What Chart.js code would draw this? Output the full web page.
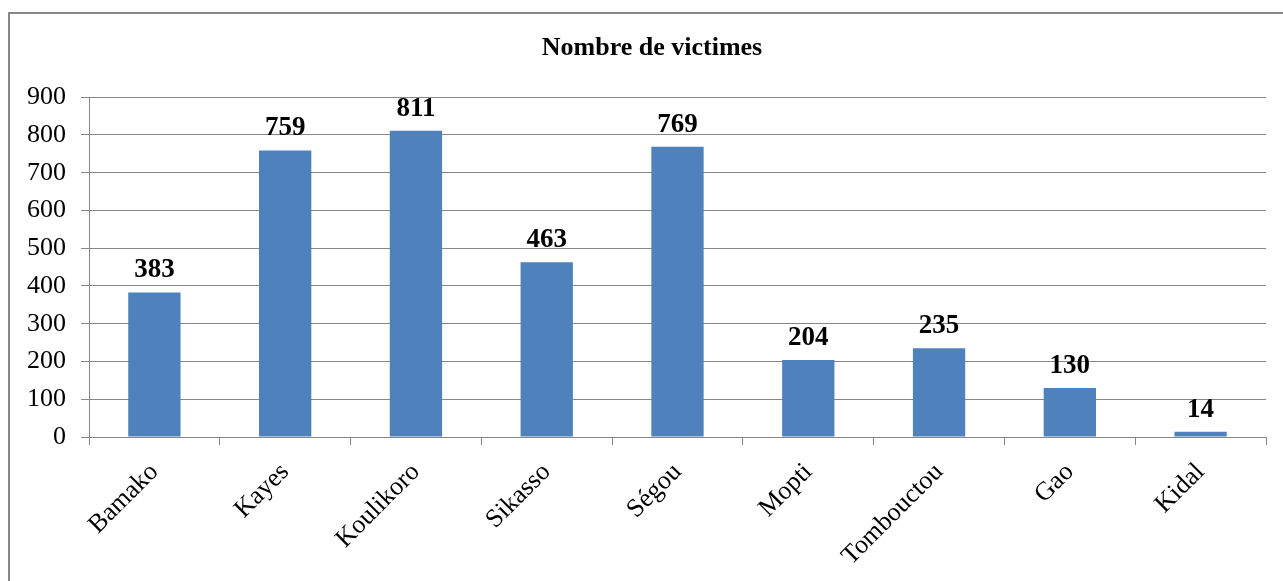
<!DOCTYPE html>
<html>
<head>
<meta charset="utf-8">
<script src="https://cdn.jsdelivr.net/npm/chart.js@4/dist/chart.umd.min.js"></script>
<style>
  html, body { margin: 0; padding: 0; background: #fff; overflow: hidden; }
  #grafico { display: block; }
</style>
</head>
<body>
<canvas id="grafico" width="1283" height="581"></canvas>
<script>
const regions = ["Bamako", "Kayes", "Koulikoro", "Sikasso", "Ségou", "Mopti", "Tombouctou", "Gao", "Kidal"]
const victimes = [383, 759, 811, 463, 769, 204, 235, 130, 14]
const yMin = 0
const yMax = 900
const yStep = 100

const serif = "'Liberation Serif', 'Times New Roman', serif"

// frame round the chart + value labels over each bar
const cadre = {
  id: "cadre",
  afterLayout(chart){
    // let the y labels use the left margin (otherwise clipped)
    chart.scales.y.left = 0
  },
  beforeDraw(chart){
    const ctx = chart.ctx
    ctx.save()
    ctx.fillStyle = "#fff"
    ctx.fillRect(0, 0, chart.width, chart.height)
    ctx.strokeStyle = "#878787"
    ctx.lineWidth = 2
    ctx.strokeRect(9, 13, 1300, 600)
    ctx.restore()
  },
  afterDatasetsDraw(chart){
    const ctx = chart.ctx
    const meta = chart.getDatasetMeta(0)
    ctx.save()
    ctx.font = "bold 27px " + serif
    ctx.fillStyle = "#000"
    ctx.textAlign = "center"
    ctx.textBaseline = "alphabetic"
    meta.data.forEach((bar, i) => {
      ctx.fillText(String(chart.data.datasets[0].data[i]), bar.x, bar.y - 15)
    })
    ctx.restore()
  }
}

new Chart(document.getElementById("grafico"), {
  type: "bar",
  data: {
    labels: regions,
    datasets: [{
      label: "Nombre de victimes",
      data: victimes,
      backgroundColor: "#4F81BD",
      borderWidth: 0,
      barPercentage: 0.4,
      categoryPercentage: 1,
    }],
  },
  options: {
    responsive: false,
    animation: false,
    devicePixelRatio: 1,
    layout: { padding: { left: 38, right: 17, top: 0, bottom: 0 } },
    plugins: {
      legend: { display: false },
      tooltip: { enabled: false },
      title: {
        display: true,
        text: "Nombre de victimes",
        color: "#000",
        font: { family: serif, size: 26, weight: "bold", lineHeight: 1.2 },
        padding: { top: 33, bottom: 33 },
      },
    },
    scales: {
      x: {
        afterFit: s => { s.height = 144 },
        grid: { drawOnChartArea: false, drawTicks: true, tickLength: 8, color: "#878787", offset: true },
        border: { color: "#878787", width: 1 },
        ticks: {
          color: "#000",
          font: { family: serif, size: 26 },
          minRotation: 45,
          maxRotation: 45,
          padding: 12,
        },
      },
      y: {
        min: yMin,
        max: yMax,
        afterFit: s => { s.width = 51 },
        grid: { color: "#878787", tickLength: 8, lineWidth: 1 },
        border: { color: "#878787", width: 1 },
        ticks: {
          stepSize: yStep,
          color: "#000",
          font: { family: serif, size: 26 },
          padding: 15,
        },
      },
    },
  },
  plugins: [cadre],
})
</script>
</body>
</html>
